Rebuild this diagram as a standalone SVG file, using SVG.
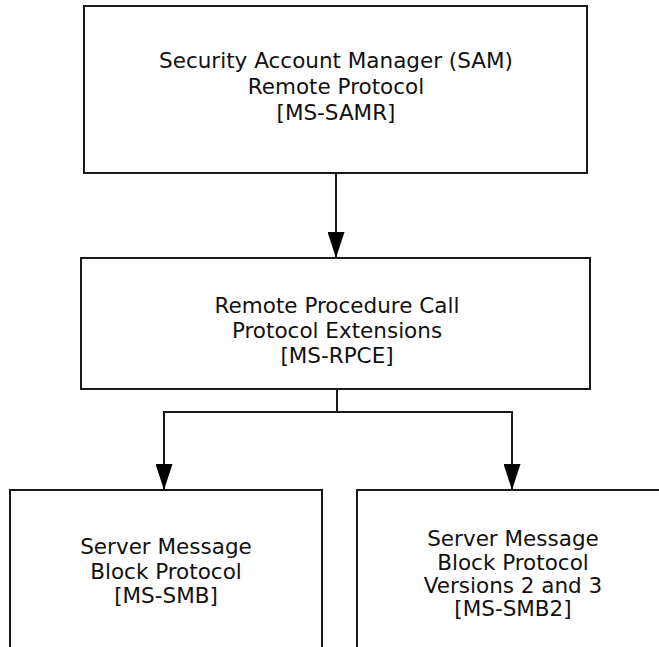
<svg xmlns="http://www.w3.org/2000/svg" width="659" height="647" viewBox="0 0 659 647">
  <defs>
    <style>
      .box { fill: #ffffff; stroke: #1a1a1a; stroke-width: 2; }
      .lbl { font-family: "DejaVu Sans", Verdana, sans-serif; font-size: 21.5px; fill: #111111; text-anchor: middle; }
      .conn { fill: none; stroke: #1a1a1a; stroke-width: 2; }
    </style>
    <marker id="arrow" markerUnits="userSpaceOnUse" markerWidth="26" markerHeight="17" refX="26" refY="8.5" orient="auto">
      <path d="M0,0 L26,8.5 L0,17 z" fill="#000000"/>
    </marker>
  </defs>
  <rect width="659" height="647" fill="#ffffff"/>

  <g id="node-samr">
    <rect class="box" x="84" y="6" width="503" height="167"/>
    <text class="lbl" x="336" y="68">Security Account Manager (SAM)</text>
    <text class="lbl" x="336" y="94">Remote Protocol</text>
    <text class="lbl" x="336" y="120">[MS-SAMR]</text>
  </g>

  <g id="node-rpce">
    <rect class="box" x="81" y="258" width="509" height="131"/>
    <text class="lbl" x="337" y="313">Remote Procedure Call</text>
    <text class="lbl" x="337" y="338">Protocol Extensions</text>
    <text class="lbl" x="337" y="363">[MS-RPCE]</text>
  </g>

  <g id="node-smb">
    <rect class="box" x="10" y="490" width="312" height="180"/>
    <text class="lbl" x="166" y="554">Server Message</text>
    <text class="lbl" x="166" y="579">Block Protocol</text>
    <text class="lbl" x="166" y="603">[MS-SMB]</text>
  </g>

  <g id="node-smb2">
    <rect class="box" x="357" y="490" width="320" height="180"/>
    <text class="lbl" x="513" y="546">Server Message</text>
    <text class="lbl" x="513" y="570">Block Protocol</text>
    <text class="lbl" x="513" y="593">Versions 2 and 3</text>
    <text class="lbl" x="513" y="616">[MS-SMB2]</text>
  </g>

  <g id="connectors">
    <line class="conn" x1="336" y1="173" x2="336" y2="258" marker-end="url(#arrow)"/>
    <line class="conn" x1="337" y1="389" x2="337" y2="412"/>
    <polyline class="conn" points="337,412 164,412 164,490" marker-end="url(#arrow)"/>
    <polyline class="conn" points="337,412 512,412 512,490" marker-end="url(#arrow)"/>
  </g>
</svg>
